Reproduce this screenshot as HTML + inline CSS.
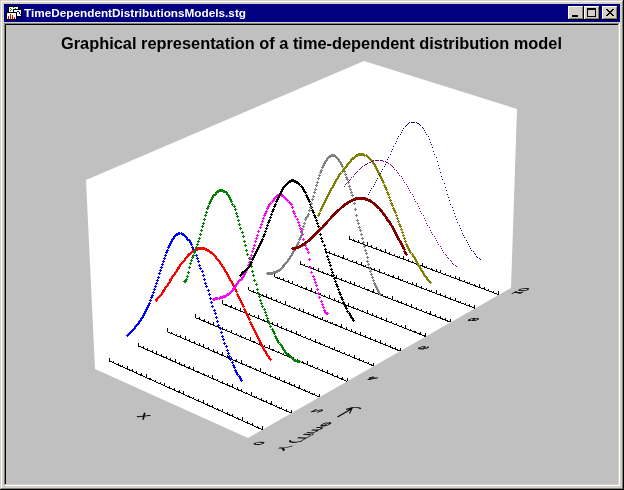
<!DOCTYPE html>
<html><head><meta charset="utf-8"><style>
html,body{margin:0;padding:0;width:624px;height:490px;overflow:hidden;background:#C0C0C0}
svg{display:block;will-change:transform}
text{font-family:"Liberation Sans",sans-serif}
</style></head><body>
<svg width="624" height="490" viewBox="0 0 624 490">
<g shape-rendering="crispEdges"><rect x="0" y="0" width="624" height="490" fill="#000000"/><rect x="0" y="0" width="623" height="489" fill="#D4D0C8"/><rect x="1" y="1" width="622" height="488" fill="#808080"/><rect x="1" y="1" width="621" height="487" fill="#FFFFFF"/><rect x="2" y="2" width="620" height="486" fill="#D4D0C8"/><rect x="4" y="4" width="616" height="18" fill="#000080"/><rect x="4" y="23" width="616" height="463" fill="#FFFFFF"/><rect x="4" y="23" width="615" height="462" fill="#808080"/><rect x="5" y="24" width="614" height="461" fill="#D4D0C8"/><rect x="5" y="24" width="613" height="460" fill="#000000"/><rect x="6" y="25" width="612" height="459" fill="#C0C0C0"/><rect x="8" y="6" width="11" height="7" fill="#000000"/><rect x="9" y="7" width="9" height="5" fill="#FFFFFF"/><rect x="10" y="8" width="1" height="1" fill="#008000"/><rect x="11" y="9" width="1" height="1" fill="#008000"/><rect x="10" y="10" width="1" height="1" fill="#008000"/><rect x="13" y="7" width="1" height="1" fill="#008000"/><rect x="15" y="8" width="1" height="1" fill="#008000"/><rect x="13" y="9" width="9" height="8" fill="#000000"/><rect x="14" y="10" width="7" height="6" fill="#FFFFFF"/><rect x="17" y="11" width="1" height="1" fill="#0000FF"/><rect x="18" y="11" width="1" height="1" fill="#0000FF"/><rect x="19" y="12" width="1" height="1" fill="#0000FF"/><rect x="19" y="13" width="1" height="1" fill="#0000FF"/><rect x="20" y="14" width="1" height="1" fill="#0000FF"/><rect x="6" y="12" width="11" height="8" fill="#000000"/><rect x="7" y="13" width="9" height="6" fill="#FFFFFF"/><rect x="8" y="16" width="1" height="3" fill="#FF0000"/><rect x="10" y="14" width="1" height="5" fill="#FF0000"/><rect x="12" y="15" width="1" height="4" fill="#FF0000"/><rect x="14" y="17" width="1" height="2" fill="#FF0000"/><rect x="568" y="6" width="16" height="14" fill="#000000"/><rect x="568" y="6" width="15" height="13" fill="#FFFFFF"/><rect x="569" y="7" width="14" height="12" fill="#808080"/><rect x="569" y="7" width="13" height="11" fill="#D4D0C8"/><rect x="584" y="6" width="16" height="14" fill="#000000"/><rect x="584" y="6" width="15" height="13" fill="#FFFFFF"/><rect x="585" y="7" width="14" height="12" fill="#808080"/><rect x="585" y="7" width="13" height="11" fill="#D4D0C8"/><rect x="602" y="6" width="16" height="14" fill="#000000"/><rect x="602" y="6" width="15" height="13" fill="#FFFFFF"/><rect x="603" y="7" width="14" height="12" fill="#808080"/><rect x="603" y="7" width="13" height="11" fill="#D4D0C8"/><rect x="572" y="15" width="6" height="2" fill="#000000"/><rect x="587" y="8" width="9" height="9" fill="#000000"/><rect x="588" y="10" width="7" height="6" fill="#D4D0C8"/></g>
<text x="24" y="17" fill="#FFFFFF" font-size="11" font-weight="bold" textLength="222" lengthAdjust="spacingAndGlyphs">TimeDependentDistributionsModels.stg</text>
<text x="61" y="48.6" fill="#000000" font-size="16" font-weight="bold" textLength="501" lengthAdjust="spacingAndGlyphs">Graphical representation of a time-dependent distribution model</text>
<polygon points="86,180 364,61 517,109 511,288 248,438 95,369" fill="#FFFFFF"/><path d="M109.33,360.96 L262.48,429.77 M109.33,360.96 v-3.30 M113.87,363.00 v-2.00 M118.42,365.05 v-2.00 M122.99,367.10 v-2.00 M127.58,369.16 v-3.30 M132.18,371.23 v-2.00 M136.79,373.30 v-2.00 M141.42,375.38 v-2.00 M146.07,377.47 v-3.30 M150.73,379.56 v-2.00 M155.41,381.67 v-2.00 M160.10,383.77 v-2.00 M164.81,385.89 v-3.30 M169.54,388.01 v-2.00 M174.28,390.14 v-2.00 M179.04,392.28 v-2.00 M183.81,394.43 v-3.30 M188.60,396.58 v-2.00 M193.41,398.74 v-2.00 M198.24,400.90 v-2.00 M203.08,403.08 v-3.30 M207.93,405.26 v-2.00 M212.81,407.45 v-2.00 M217.70,409.65 v-2.00 M222.60,411.85 v-3.30 M227.53,414.06 v-2.00 M232.47,416.28 v-2.00 M237.43,418.51 v-2.00 M242.40,420.75 v-3.30 M247.40,422.99 v-2.00 M252.41,425.24 v-2.00 M257.44,427.50 v-2.00 M262.48,429.77 v-3.30" stroke="#000" stroke-width="1" fill="none" shape-rendering="crispEdges"/><path d="M138.59,346.11 L291.41,413.22 M138.59,346.11 v-3.30 M143.12,348.10 v-2.00 M147.67,350.10 v-2.00 M152.23,352.10 v-2.00 M156.80,354.11 v-3.30 M161.40,356.13 v-2.00 M166.00,358.15 v-2.00 M170.63,360.18 v-2.00 M175.27,362.22 v-3.30 M179.92,364.26 v-2.00 M184.59,366.31 v-2.00 M189.27,368.37 v-2.00 M193.97,370.43 v-3.30 M198.69,372.51 v-2.00 M203.42,374.58 v-2.00 M208.17,376.67 v-2.00 M212.93,378.76 v-3.30 M217.72,380.86 v-2.00 M222.51,382.97 v-2.00 M227.32,385.08 v-2.00 M232.15,387.20 v-3.30 M237.00,389.33 v-2.00 M241.86,391.46 v-2.00 M246.74,393.60 v-2.00 M251.63,395.75 v-3.30 M256.55,397.91 v-2.00 M261.47,400.07 v-2.00 M266.42,402.25 v-2.00 M271.38,404.42 v-3.30 M276.36,406.61 v-2.00 M281.36,408.80 v-2.00 M286.37,411.01 v-2.00 M291.41,413.22 v-3.30" stroke="#000" stroke-width="1" fill="none" shape-rendering="crispEdges"/><path d="M167.14,331.62 L319.60,397.08 M167.14,331.62 v-3.30 M171.67,333.56 v-2.00 M176.21,335.51 v-2.00 M180.76,337.47 v-2.00 M185.33,339.43 v-3.30 M189.91,341.40 v-2.00 M194.51,343.37 v-2.00 M199.13,345.35 v-2.00 M203.75,347.34 v-3.30 M208.40,349.33 v-2.00 M213.06,351.33 v-2.00 M217.73,353.34 v-2.00 M222.42,355.36 v-3.30 M227.13,357.38 v-2.00 M231.85,359.40 v-2.00 M236.59,361.44 v-2.00 M241.34,363.48 v-3.30 M246.11,365.53 v-2.00 M250.90,367.58 v-2.00 M255.70,369.64 v-2.00 M260.51,371.71 v-3.30 M265.35,373.79 v-2.00 M270.20,375.87 v-2.00 M275.06,377.96 v-2.00 M279.94,380.05 v-3.30 M284.84,382.16 v-2.00 M289.76,384.27 v-2.00 M294.69,386.39 v-2.00 M299.64,388.51 v-3.30 M304.60,390.64 v-2.00 M309.58,392.78 v-2.00 M314.58,394.93 v-2.00 M319.60,397.08 v-3.30" stroke="#000" stroke-width="1" fill="none" shape-rendering="crispEdges"/><path d="M195.03,317.47 L347.09,381.35 M195.03,317.47 v-3.30 M199.54,319.36 v-2.00 M204.07,321.27 v-2.00 M208.62,323.18 v-2.00 M213.18,325.09 v-3.30 M217.75,327.01 v-2.00 M222.34,328.94 v-2.00 M226.94,330.87 v-2.00 M231.56,332.82 v-3.30 M236.20,334.76 v-2.00 M240.85,336.71 v-2.00 M245.51,338.67 v-2.00 M250.19,340.64 v-3.30 M254.88,342.61 v-2.00 M259.59,344.59 v-2.00 M264.32,346.58 v-2.00 M269.06,348.57 v-3.30 M273.82,350.57 v-2.00 M278.59,352.57 v-2.00 M283.38,354.58 v-2.00 M288.18,356.60 v-3.30 M293.00,358.63 v-2.00 M297.84,360.66 v-2.00 M302.69,362.70 v-2.00 M307.56,364.74 v-3.30 M312.44,366.79 v-2.00 M317.34,368.85 v-2.00 M322.26,370.92 v-2.00 M327.19,372.99 v-3.30 M332.14,375.07 v-2.00 M337.11,377.16 v-2.00 M342.09,379.25 v-2.00 M347.09,381.35 v-3.30" stroke="#000" stroke-width="1" fill="none" shape-rendering="crispEdges"/><path d="M222.26,303.64 L373.91,366.00 M222.26,303.64 v-3.30 M226.77,305.50 v-2.00 M231.29,307.36 v-2.00 M235.82,309.22 v-2.00 M240.37,311.09 v-3.30 M244.93,312.97 v-2.00 M249.51,314.85 v-2.00 M254.11,316.74 v-2.00 M258.71,318.63 v-3.30 M263.34,320.53 v-2.00 M267.97,322.44 v-2.00 M272.63,324.35 v-2.00 M277.29,326.27 v-3.30 M281.98,328.20 v-2.00 M286.67,330.13 v-2.00 M291.39,332.07 v-2.00 M296.11,334.01 v-3.30 M300.86,335.96 v-2.00 M305.62,337.92 v-2.00 M310.39,339.88 v-2.00 M315.18,341.85 v-3.30 M319.99,343.83 v-2.00 M324.81,345.81 v-2.00 M329.65,347.80 v-2.00 M334.50,349.80 v-3.30 M339.37,351.80 v-2.00 M344.26,353.81 v-2.00 M349.16,355.83 v-2.00 M354.08,357.85 v-3.30 M359.01,359.88 v-2.00 M363.96,361.91 v-2.00 M368.93,363.95 v-2.00 M373.91,366.00 v-3.30" stroke="#000" stroke-width="1" fill="none" shape-rendering="crispEdges"/><path d="M248.86,290.14 L400.08,351.03 M248.86,290.14 v-3.30 M253.36,291.95 v-2.00 M257.87,293.77 v-2.00 M262.39,295.59 v-2.00 M266.93,297.42 v-3.30 M271.49,299.25 v-2.00 M276.05,301.09 v-2.00 M280.63,302.93 v-2.00 M285.23,304.78 v-3.30 M289.84,306.64 v-2.00 M294.47,308.50 v-2.00 M299.11,310.37 v-2.00 M303.76,312.25 v-3.30 M308.43,314.13 v-2.00 M313.12,316.01 v-2.00 M317.82,317.90 v-2.00 M322.53,319.80 v-3.30 M327.26,321.71 v-2.00 M332.01,323.62 v-2.00 M336.77,325.54 v-2.00 M341.54,327.46 v-3.30 M346.33,329.39 v-2.00 M351.14,331.32 v-2.00 M355.96,333.27 v-2.00 M360.80,335.21 v-3.30 M365.65,337.17 v-2.00 M370.52,339.13 v-2.00 M375.41,341.10 v-2.00 M380.31,343.07 v-3.30 M385.23,345.05 v-2.00 M390.16,347.04 v-2.00 M395.11,349.03 v-2.00 M400.08,351.03 v-3.30" stroke="#000" stroke-width="1" fill="none" shape-rendering="crispEdges"/><path d="M274.86,276.94 L425.62,336.42 M274.86,276.94 v-3.30 M279.35,278.71 v-2.00 M283.85,280.49 v-2.00 M288.36,282.27 v-2.00 M292.89,284.05 v-3.30 M297.43,285.84 v-2.00 M301.98,287.64 v-2.00 M306.55,289.44 v-2.00 M311.13,291.25 v-3.30 M315.73,293.07 v-2.00 M320.35,294.89 v-2.00 M324.97,296.71 v-2.00 M329.61,298.54 v-3.30 M334.27,300.38 v-2.00 M338.94,302.22 v-2.00 M343.63,304.07 v-2.00 M348.33,305.92 v-3.30 M353.04,307.79 v-2.00 M357.77,309.65 v-2.00 M362.52,311.52 v-2.00 M367.28,313.40 v-3.30 M372.06,315.29 v-2.00 M376.85,317.18 v-2.00 M381.65,319.07 v-2.00 M386.48,320.97 v-3.30 M391.31,322.88 v-2.00 M396.17,324.80 v-2.00 M401.04,326.72 v-2.00 M405.92,328.65 v-3.30 M410.82,330.58 v-2.00 M415.74,332.52 v-2.00 M420.67,334.46 v-2.00 M425.62,336.42 v-3.30" stroke="#000" stroke-width="1" fill="none" shape-rendering="crispEdges"/><path d="M300.28,264.04 L450.56,322.15 M300.28,264.04 v-3.30 M304.75,265.77 v-2.00 M309.24,267.51 v-2.00 M313.74,269.25 v-2.00 M318.25,270.99 v-3.30 M322.78,272.75 v-2.00 M327.32,274.50 v-2.00 M331.88,276.26 v-2.00 M336.45,278.03 v-3.30 M341.03,279.80 v-2.00 M345.63,281.58 v-2.00 M350.25,283.37 v-2.00 M354.87,285.15 v-3.30 M359.52,286.95 v-2.00 M364.17,288.75 v-2.00 M368.84,290.56 v-2.00 M373.53,292.37 v-3.30 M378.23,294.19 v-2.00 M382.95,296.01 v-2.00 M387.68,297.84 v-2.00 M392.42,299.67 v-3.30 M397.18,301.51 v-2.00 M401.96,303.36 v-2.00 M406.75,305.21 v-2.00 M411.55,307.07 v-3.30 M416.37,308.93 v-2.00 M421.21,310.80 v-2.00 M426.06,312.68 v-2.00 M430.93,314.56 v-3.30 M435.81,316.45 v-2.00 M440.71,318.34 v-2.00 M445.63,320.24 v-2.00 M450.56,322.15 v-3.30" stroke="#000" stroke-width="1" fill="none" shape-rendering="crispEdges"/><path d="M325.12,251.43 L474.91,308.22 M325.12,251.43 v-3.30 M329.58,253.12 v-2.00 M334.06,254.82 v-2.00 M338.54,256.52 v-2.00 M343.05,258.23 v-3.30 M347.56,259.94 v-2.00 M352.09,261.66 v-2.00 M356.63,263.38 v-2.00 M361.19,265.11 v-3.30 M365.76,266.84 v-2.00 M370.35,268.58 v-2.00 M374.95,270.32 v-2.00 M379.56,272.07 v-3.30 M384.19,273.82 v-2.00 M388.83,275.58 v-2.00 M393.48,277.35 v-2.00 M398.16,279.12 v-3.30 M402.84,280.90 v-2.00 M407.54,282.68 v-2.00 M412.25,284.46 v-2.00 M416.98,286.26 v-3.30 M421.73,288.06 v-2.00 M426.49,289.86 v-2.00 M431.26,291.67 v-2.00 M436.05,293.48 v-3.30 M440.85,295.31 v-2.00 M445.67,297.13 v-2.00 M450.51,298.97 v-2.00 M455.35,300.80 v-3.30 M460.22,302.65 v-2.00 M465.10,304.50 v-2.00 M469.99,306.35 v-2.00 M474.91,308.22 v-3.30" stroke="#000" stroke-width="1" fill="none" shape-rendering="crispEdges"/><path d="M349.42,239.10 L498.69,294.60 M349.42,239.10 v-3.30 M353.87,240.75 v-2.00 M358.33,242.41 v-2.00 M362.80,244.08 v-2.00 M367.29,245.75 v-3.30 M371.79,247.42 v-2.00 M376.31,249.10 v-2.00 M380.84,250.78 v-2.00 M385.38,252.47 v-3.30 M389.94,254.17 v-2.00 M394.51,255.87 v-2.00 M399.09,257.57 v-2.00 M403.69,259.28 v-3.30 M408.30,260.99 v-2.00 M412.93,262.71 v-2.00 M417.57,264.44 v-2.00 M422.23,266.17 v-3.30 M426.89,267.91 v-2.00 M431.58,269.65 v-2.00 M436.28,271.40 v-2.00 M440.99,273.15 v-3.30 M445.72,274.91 v-2.00 M450.46,276.67 v-2.00 M455.21,278.44 v-2.00 M459.98,280.21 v-3.30 M464.77,281.99 v-2.00 M469.57,283.78 v-2.00 M474.39,285.57 v-2.00 M479.22,287.36 v-3.30 M484.06,289.16 v-2.00 M488.92,290.97 v-2.00 M493.80,292.79 v-2.00 M498.69,294.60 v-3.30" stroke="#000" stroke-width="1" fill="none" shape-rendering="crispEdges"/><path d="M126,335 h3 v1 h-3z M127,334 h1 v3 h-1z M127,334 h3 v1 h-3z M128,333 h1 v3 h-1z M128,333 h3 v1 h-3z M129,332 h1 v3 h-1z M129,332 h3 v1 h-3z M130,331 h1 v3 h-1z M130,331 h3 v1 h-3z M131,330 h1 v3 h-1z M131,330 h3 v1 h-3z M132,329 h1 v3 h-1z M132,329 h3 v1 h-3z M133,328 h1 v3 h-1z M133,328 h3 v1 h-3z M134,327 h1 v3 h-1z M134,326 h3 v1 h-3z M135,325 h1 v3 h-1z M135,325 h3 v1 h-3z M136,324 h1 v3 h-1z M136,324 h3 v1 h-3z M137,323 h1 v3 h-1z M137,323 h3 v1 h-3z M138,322 h1 v3 h-1z M138,321 h3 v1 h-3z M139,320 h1 v3 h-1z M139,320 h3 v1 h-3z M140,319 h1 v3 h-1z M140,318 h3 v1 h-3z M141,317 h1 v3 h-1z M141,317 h3 v1 h-3z M142,316 h1 v3 h-1z M142,315 h3 v1 h-3z M143,314 h1 v3 h-1z M143,313 h3 v1 h-3z M144,312 h1 v3 h-1z M144,311 h3 v1 h-3z M145,310 h1 v3 h-1z M145,309 h3 v1 h-3z M146,308 h1 v3 h-1z M146,307 h3 v1 h-3z M147,306 h1 v3 h-1z M147,305 h3 v1 h-3z M148,304 h1 v3 h-1z M148,303 h3 v1 h-3z M149,302 h1 v3 h-1z M149,300 h3 v1 h-3z M150,299 h1 v3 h-1z M150,297 h3 v1 h-3z M151,296 h1 v3 h-1z M151,295 h3 v1 h-3z M152,294 h1 v3 h-1z M152,292 h3 v1 h-3z M153,291 h1 v3 h-1z M153,289 h3 v1 h-3z M154,288 h1 v3 h-1z M154,286 h3 v1 h-3z M155,285 h1 v3 h-1z M155,283 h3 v1 h-3z M156,282 h1 v3 h-1z M156,280 h3 v1 h-3z M157,279 h1 v3 h-1z M157,277 h3 v1 h-3z M158,276 h1 v3 h-1z M158,273 h3 v1 h-3z M159,272 h1 v3 h-1z M159,270 h3 v1 h-3z M160,269 h1 v3 h-1z M160,267 h3 v1 h-3z M161,266 h1 v3 h-1z M161,264 h3 v1 h-3z M162,263 h1 v3 h-1z M162,261 h3 v1 h-3z M163,260 h1 v3 h-1z M163,258 h3 v1 h-3z M164,257 h1 v3 h-1z M164,255 h3 v1 h-3z M165,254 h1 v3 h-1z M165,252 h3 v1 h-3z M166,251 h1 v3 h-1z M166,250 h3 v1 h-3z M167,249 h1 v3 h-1z M167,247 h3 v1 h-3z M168,246 h1 v3 h-1z M168,245 h3 v1 h-3z M169,244 h1 v3 h-1z M169,243 h3 v1 h-3z M170,242 h1 v3 h-1z M170,241 h3 v1 h-3z M171,240 h1 v3 h-1z M171,239 h3 v1 h-3z M172,238 h1 v3 h-1z M172,238 h3 v1 h-3z M173,237 h1 v3 h-1z M173,236 h3 v1 h-3z M174,235 h1 v3 h-1z M174,235 h3 v1 h-3z M175,234 h1 v3 h-1z M175,234 h3 v1 h-3z M176,233 h1 v3 h-1z M176,234 h3 v1 h-3z M177,233 h1 v3 h-1z M177,233 h3 v1 h-3z M178,232 h1 v3 h-1z M178,233 h3 v1 h-3z M179,232 h1 v3 h-1z M180,233 h3 v1 h-3z M181,232 h1 v3 h-1z M181,234 h3 v1 h-3z M182,233 h1 v3 h-1z M182,234 h3 v1 h-3z M183,233 h1 v3 h-1z M183,235 h3 v1 h-3z M184,234 h1 v3 h-1z M184,236 h3 v1 h-3z M185,235 h1 v3 h-1z M185,237 h3 v1 h-3z M186,236 h1 v3 h-1z M186,239 h3 v1 h-3z M187,238 h1 v3 h-1z M188,240 h3 v1 h-3z M189,239 h1 v3 h-1z M189,242 h3 v1 h-3z M190,241 h1 v3 h-1z M190,244 h3 v1 h-3z M191,243 h1 v3 h-1z M191,247 h3 v1 h-3z M192,246 h1 v3 h-1z M192,249 h3 v1 h-3z M193,248 h1 v3 h-1z M193,252 h3 v1 h-3z M194,251 h1 v3 h-1z M195,255 h3 v1 h-3z M196,254 h1 v3 h-1z M196,258 h3 v1 h-3z M197,257 h1 v3 h-1z M197,261 h3 v1 h-3z M198,260 h1 v3 h-1z M198,265 h3 v1 h-3z M199,264 h1 v3 h-1z M199,268 h3 v1 h-3z M200,267 h1 v3 h-1z M201,271 h3 v1 h-3z M202,270 h1 v3 h-1z M202,275 h3 v1 h-3z M203,274 h1 v3 h-1z M203,279 h3 v1 h-3z M204,278 h1 v3 h-1z M204,283 h3 v1 h-3z M205,282 h1 v3 h-1z M205,286 h3 v1 h-3z M206,285 h1 v3 h-1z M207,290 h3 v1 h-3z M208,289 h1 v3 h-1z M208,294 h3 v1 h-3z M209,293 h1 v3 h-1z M209,298 h3 v1 h-3z M210,297 h1 v3 h-1z M210,302 h3 v1 h-3z M211,301 h1 v3 h-1z M211,306 h3 v1 h-3z M212,305 h1 v3 h-1z M213,310 h3 v1 h-3z M214,309 h1 v3 h-1z M214,313 h3 v1 h-3z M215,312 h1 v3 h-1z M215,317 h3 v1 h-3z M216,316 h1 v3 h-1z M216,321 h3 v1 h-3z M217,320 h1 v3 h-1z M217,325 h3 v1 h-3z M218,324 h1 v3 h-1z M219,328 h3 v1 h-3z M220,327 h1 v3 h-1z M220,332 h3 v1 h-3z M221,331 h1 v3 h-1z M221,336 h3 v1 h-3z M222,335 h1 v3 h-1z M222,339 h3 v1 h-3z M223,338 h1 v3 h-1z M223,343 h3 v1 h-3z M224,342 h1 v3 h-1z M225,346 h3 v1 h-3z M226,345 h1 v3 h-1z M226,350 h3 v1 h-3z M227,349 h1 v3 h-1z M227,353 h3 v1 h-3z M228,352 h1 v3 h-1z M228,356 h3 v1 h-3z M229,355 h1 v3 h-1z M229,359 h3 v1 h-3z M230,358 h1 v3 h-1z M231,362 h3 v1 h-3z M232,361 h1 v3 h-1z M232,365 h3 v1 h-3z M233,364 h1 v3 h-1z M233,367 h3 v1 h-3z M234,366 h1 v3 h-1z M234,370 h3 v1 h-3z M235,369 h1 v3 h-1z M235,372 h3 v1 h-3z M236,371 h1 v3 h-1z M236,374 h3 v1 h-3z M237,373 h1 v3 h-1z M238,376 h3 v1 h-3z M239,375 h1 v3 h-1z M239,378 h3 v1 h-3z M240,377 h1 v3 h-1z M240,380 h3 v1 h-3z M241,379 h1 v3 h-1z " fill="#0000FF" shape-rendering="crispEdges"/><path d="M155,300 h3 v1 h-3z M156,299 h1 v3 h-1z M155,299 h3 v1 h-3z M156,298 h1 v3 h-1z M156,298 h3 v1 h-3z M157,297 h1 v3 h-1z M157,297 h3 v1 h-3z M158,296 h1 v3 h-1z M158,296 h3 v1 h-3z M159,295 h1 v3 h-1z M159,295 h3 v1 h-3z M160,294 h1 v3 h-1z M160,294 h3 v1 h-3z M161,293 h1 v3 h-1z M161,292 h3 v1 h-3z M162,291 h1 v3 h-1z M162,291 h3 v1 h-3z M163,290 h1 v3 h-1z M162,290 h3 v1 h-3z M163,289 h1 v3 h-1z M163,289 h3 v1 h-3z M164,288 h1 v3 h-1z M164,287 h3 v1 h-3z M165,286 h1 v3 h-1z M165,286 h3 v1 h-3z M166,285 h1 v3 h-1z M166,285 h3 v1 h-3z M167,284 h1 v3 h-1z M167,283 h3 v1 h-3z M168,282 h1 v3 h-1z M168,282 h3 v1 h-3z M169,281 h1 v3 h-1z M169,280 h3 v1 h-3z M170,279 h1 v3 h-1z M169,279 h3 v1 h-3z M170,278 h1 v3 h-1z M170,278 h3 v1 h-3z M171,277 h1 v3 h-1z M171,276 h3 v1 h-3z M172,275 h1 v3 h-1z M172,275 h3 v1 h-3z M173,274 h1 v3 h-1z M173,274 h3 v1 h-3z M174,273 h1 v3 h-1z M174,272 h3 v1 h-3z M175,271 h1 v3 h-1z M175,271 h3 v1 h-3z M176,270 h1 v3 h-1z M176,269 h3 v1 h-3z M177,268 h1 v3 h-1z M177,268 h3 v1 h-3z M178,267 h1 v3 h-1z M177,267 h3 v1 h-3z M178,266 h1 v3 h-1z M178,266 h3 v1 h-3z M179,265 h1 v3 h-1z M179,264 h3 v1 h-3z M180,263 h1 v3 h-1z M180,263 h3 v1 h-3z M181,262 h1 v3 h-1z M181,262 h3 v1 h-3z M182,261 h1 v3 h-1z M182,261 h3 v1 h-3z M183,260 h1 v3 h-1z M183,260 h3 v1 h-3z M184,259 h1 v3 h-1z M184,258 h3 v1 h-3z M185,257 h1 v3 h-1z M185,257 h3 v1 h-3z M186,256 h1 v3 h-1z M186,256 h3 v1 h-3z M187,255 h1 v3 h-1z M187,255 h3 v1 h-3z M188,254 h1 v3 h-1z M187,254 h3 v1 h-3z M188,253 h1 v3 h-1z M188,254 h3 v1 h-3z M189,253 h1 v3 h-1z M189,253 h3 v1 h-3z M190,252 h1 v3 h-1z M190,252 h3 v1 h-3z M191,251 h1 v3 h-1z M191,251 h3 v1 h-3z M192,250 h1 v3 h-1z M192,251 h3 v1 h-3z M193,250 h1 v3 h-1z M193,250 h3 v1 h-3z M194,249 h1 v3 h-1z M194,249 h3 v1 h-3z M195,248 h1 v3 h-1z M195,249 h3 v1 h-3z M196,248 h1 v3 h-1z M196,249 h3 v1 h-3z M197,248 h1 v3 h-1z M197,248 h3 v1 h-3z M198,247 h1 v3 h-1z M198,248 h3 v1 h-3z M199,247 h1 v3 h-1z M199,248 h3 v1 h-3z M200,247 h1 v3 h-1z M200,248 h3 v1 h-3z M201,247 h1 v3 h-1z M201,248 h3 v1 h-3z M202,247 h1 v3 h-1z M201,248 h3 v1 h-3z M202,247 h1 v3 h-1z M202,248 h3 v1 h-3z M203,247 h1 v3 h-1z M203,248 h3 v1 h-3z M204,247 h1 v3 h-1z M204,249 h3 v1 h-3z M205,248 h1 v3 h-1z M205,249 h3 v1 h-3z M206,248 h1 v3 h-1z M206,250 h3 v1 h-3z M207,249 h1 v3 h-1z M207,250 h3 v1 h-3z M208,249 h1 v3 h-1z M208,251 h3 v1 h-3z M209,250 h1 v3 h-1z M209,252 h3 v1 h-3z M210,251 h1 v3 h-1z M210,252 h3 v1 h-3z M211,251 h1 v3 h-1z M211,253 h3 v1 h-3z M212,252 h1 v3 h-1z M212,254 h3 v1 h-3z M213,253 h1 v3 h-1z M213,255 h3 v1 h-3z M214,254 h1 v3 h-1z M214,256 h3 v1 h-3z M215,255 h1 v3 h-1z M215,258 h3 v1 h-3z M216,257 h1 v3 h-1z M216,259 h3 v1 h-3z M217,258 h1 v3 h-1z M217,260 h3 v1 h-3z M218,259 h1 v3 h-1z M218,261 h3 v1 h-3z M219,260 h1 v3 h-1z M219,263 h3 v1 h-3z M220,262 h1 v3 h-1z M220,264 h3 v1 h-3z M221,263 h1 v3 h-1z M221,266 h3 v1 h-3z M222,265 h1 v3 h-1z M222,267 h3 v1 h-3z M223,266 h1 v3 h-1z M223,269 h3 v1 h-3z M224,268 h1 v3 h-1z M224,271 h3 v1 h-3z M225,270 h1 v3 h-1z M225,272 h3 v1 h-3z M226,271 h1 v3 h-1z M226,274 h3 v1 h-3z M227,273 h1 v3 h-1z M227,276 h3 v1 h-3z M228,275 h1 v3 h-1z M228,278 h3 v1 h-3z M229,277 h1 v3 h-1z M229,280 h3 v1 h-3z M230,279 h1 v3 h-1z M230,281 h3 v1 h-3z M231,280 h1 v3 h-1z M231,283 h3 v1 h-3z M232,282 h1 v3 h-1z M232,285 h3 v1 h-3z M233,284 h1 v3 h-1z M233,287 h3 v1 h-3z M234,286 h1 v3 h-1z M234,289 h3 v1 h-3z M235,288 h1 v3 h-1z M235,291 h3 v1 h-3z M236,290 h1 v3 h-1z M236,294 h3 v1 h-3z M237,293 h1 v3 h-1z M237,296 h3 v1 h-3z M238,295 h1 v3 h-1z M238,298 h3 v1 h-3z M239,297 h1 v3 h-1z M239,300 h3 v1 h-3z M240,299 h1 v3 h-1z M240,302 h3 v1 h-3z M241,301 h1 v3 h-1z M241,304 h3 v1 h-3z M242,303 h1 v3 h-1z M242,306 h3 v1 h-3z M243,305 h1 v3 h-1z M243,309 h3 v1 h-3z M244,308 h1 v3 h-1z M244,311 h3 v1 h-3z M245,310 h1 v3 h-1z M245,313 h3 v1 h-3z M246,312 h1 v3 h-1z M246,315 h3 v1 h-3z M247,314 h1 v3 h-1z M247,317 h3 v1 h-3z M248,316 h1 v3 h-1z M248,319 h3 v1 h-3z M249,318 h1 v3 h-1z M249,322 h3 v1 h-3z M250,321 h1 v3 h-1z M250,324 h3 v1 h-3z M251,323 h1 v3 h-1z M251,326 h3 v1 h-3z M252,325 h1 v3 h-1z M252,328 h3 v1 h-3z M253,327 h1 v3 h-1z M253,330 h3 v1 h-3z M254,329 h1 v3 h-1z M254,332 h3 v1 h-3z M255,331 h1 v3 h-1z M255,334 h3 v1 h-3z M256,333 h1 v3 h-1z M256,336 h3 v1 h-3z M257,335 h1 v3 h-1z M257,338 h3 v1 h-3z M258,337 h1 v3 h-1z M258,340 h3 v1 h-3z M259,339 h1 v3 h-1z M259,342 h3 v1 h-3z M260,341 h1 v3 h-1z M260,344 h3 v1 h-3z M261,343 h1 v3 h-1z M261,346 h3 v1 h-3z M262,345 h1 v3 h-1z M262,348 h3 v1 h-3z M263,347 h1 v3 h-1z M263,350 h3 v1 h-3z M264,349 h1 v3 h-1z M264,351 h3 v1 h-3z M265,350 h1 v3 h-1z M265,353 h3 v1 h-3z M266,352 h1 v3 h-1z M266,355 h3 v1 h-3z M267,354 h1 v3 h-1z M267,356 h3 v1 h-3z M268,355 h1 v3 h-1z M268,358 h3 v1 h-3z M269,357 h1 v3 h-1z M269,359 h3 v1 h-3z M270,358 h1 v3 h-1z " fill="#FF0000" shape-rendering="crispEdges"/><path d="M183,281 h3 v1 h-3z M184,280 h1 v3 h-1z M184,281 h3 v1 h-3z M185,280 h1 v3 h-1z M185,279 h3 v1 h-3z M186,278 h1 v3 h-1z M186,276 h3 v1 h-3z M187,275 h1 v3 h-1z M187,272 h3 v1 h-3z M188,271 h1 v3 h-1z M188,267 h3 v1 h-3z M189,266 h1 v3 h-1z M189,263 h3 v1 h-3z M190,262 h1 v3 h-1z M190,260 h3 v1 h-3z M191,259 h1 v3 h-1z M191,257 h3 v1 h-3z M192,256 h1 v3 h-1z M192,255 h3 v1 h-3z M193,254 h1 v3 h-1z M193,252 h3 v1 h-3z M194,251 h1 v3 h-1z M194,250 h3 v1 h-3z M195,249 h1 v3 h-1z M195,247 h3 v1 h-3z M196,246 h1 v3 h-1z M196,244 h3 v1 h-3z M197,243 h1 v3 h-1z M197,241 h3 v1 h-3z M198,240 h1 v3 h-1z M198,238 h3 v1 h-3z M199,237 h1 v3 h-1z M199,234 h3 v1 h-3z M200,233 h1 v3 h-1z M200,230 h3 v1 h-3z M201,229 h1 v3 h-1z M201,226 h3 v1 h-3z M202,225 h1 v3 h-1z M202,223 h3 v1 h-3z M203,222 h1 v3 h-1z M203,219 h3 v1 h-3z M204,218 h1 v3 h-1z M204,215 h3 v1 h-3z M205,214 h1 v3 h-1z M205,212 h3 v1 h-3z M206,211 h1 v3 h-1z M206,208 h3 v1 h-3z M207,207 h1 v3 h-1z M207,206 h3 v1 h-3z M208,205 h1 v3 h-1z M208,203 h3 v1 h-3z M209,202 h1 v3 h-1z M209,201 h3 v1 h-3z M210,200 h1 v3 h-1z M210,199 h3 v1 h-3z M211,198 h1 v3 h-1z M211,197 h3 v1 h-3z M212,196 h1 v3 h-1z M212,195 h3 v1 h-3z M213,194 h1 v3 h-1z M214,194 h3 v1 h-3z M215,193 h1 v3 h-1z M215,192 h3 v1 h-3z M216,191 h1 v3 h-1z M216,191 h3 v1 h-3z M217,190 h1 v3 h-1z M217,191 h3 v1 h-3z M218,190 h1 v3 h-1z M218,190 h3 v1 h-3z M219,189 h1 v3 h-1z M219,190 h3 v1 h-3z M220,189 h1 v3 h-1z M220,190 h3 v1 h-3z M221,189 h1 v3 h-1z M221,190 h3 v1 h-3z M222,189 h1 v3 h-1z M222,191 h3 v1 h-3z M223,190 h1 v3 h-1z M223,191 h3 v1 h-3z M224,190 h1 v3 h-1z M225,192 h3 v1 h-3z M226,191 h1 v3 h-1z M226,194 h3 v1 h-3z M227,193 h1 v3 h-1z M227,195 h3 v1 h-3z M228,194 h1 v3 h-1z M228,197 h3 v1 h-3z M229,196 h1 v3 h-1z M229,199 h3 v1 h-3z M230,198 h1 v3 h-1z M230,201 h3 v1 h-3z M231,200 h1 v3 h-1z M231,204 h3 v1 h-3z M232,203 h1 v3 h-1z M233,206 h3 v1 h-3z M234,205 h1 v3 h-1z M234,209 h3 v1 h-3z M235,208 h1 v3 h-1z M235,213 h3 v1 h-3z M236,212 h1 v3 h-1z M236,216 h3 v1 h-3z M237,215 h1 v3 h-1z M237,220 h3 v1 h-3z M238,219 h1 v3 h-1z M238,224 h3 v1 h-3z M239,223 h1 v3 h-1z M239,228 h3 v1 h-3z M240,227 h1 v3 h-1z M241,232 h3 v1 h-3z M242,231 h1 v3 h-1z M242,236 h3 v1 h-3z M243,235 h1 v3 h-1z M243,241 h3 v1 h-3z M244,240 h1 v3 h-1z M244,245 h3 v1 h-3z M245,244 h1 v3 h-1z M245,250 h3 v1 h-3z M246,249 h1 v3 h-1z M246,254 h3 v1 h-3z M247,253 h1 v3 h-1z M248,258 h3 v1 h-3z M249,257 h1 v3 h-1z M249,262 h3 v1 h-3z M250,261 h1 v3 h-1z M250,266 h3 v1 h-3z M251,265 h1 v3 h-1z M251,271 h3 v1 h-3z M252,270 h1 v3 h-1z M252,275 h3 v1 h-3z M253,274 h1 v3 h-1z M253,280 h3 v1 h-3z M254,279 h1 v3 h-1z M255,284 h3 v1 h-3z M256,283 h1 v3 h-1z M256,289 h3 v1 h-3z M257,288 h1 v3 h-1z M257,293 h3 v1 h-3z M258,292 h1 v3 h-1z M258,296 h3 v1 h-3z M259,295 h1 v3 h-1z M259,300 h3 v1 h-3z M260,299 h1 v3 h-1z M260,303 h3 v1 h-3z M261,302 h1 v3 h-1z M261,306 h3 v1 h-3z M262,305 h1 v3 h-1z M263,309 h3 v1 h-3z M264,308 h1 v3 h-1z M264,312 h3 v1 h-3z M265,311 h1 v3 h-1z M265,315 h3 v1 h-3z M266,314 h1 v3 h-1z M266,318 h3 v1 h-3z M267,317 h1 v3 h-1z M267,321 h3 v1 h-3z M268,320 h1 v3 h-1z M268,323 h3 v1 h-3z M269,322 h1 v3 h-1z M269,326 h3 v1 h-3z M270,325 h1 v3 h-1z M271,329 h3 v1 h-3z M272,328 h1 v3 h-1z M272,331 h3 v1 h-3z M273,330 h1 v3 h-1z M273,333 h3 v1 h-3z M274,332 h1 v3 h-1z M274,336 h3 v1 h-3z M275,335 h1 v3 h-1z M275,338 h3 v1 h-3z M276,337 h1 v3 h-1z M276,340 h3 v1 h-3z M277,339 h1 v3 h-1z M277,342 h3 v1 h-3z M278,341 h1 v3 h-1z M279,344 h3 v1 h-3z M280,343 h1 v3 h-1z M280,345 h3 v1 h-3z M281,344 h1 v3 h-1z M281,347 h3 v1 h-3z M282,346 h1 v3 h-1z M282,349 h3 v1 h-3z M283,348 h1 v3 h-1z M283,350 h3 v1 h-3z M284,349 h1 v3 h-1z M284,352 h3 v1 h-3z M285,351 h1 v3 h-1z M285,353 h3 v1 h-3z M286,352 h1 v3 h-1z M286,354 h3 v1 h-3z M287,353 h1 v3 h-1z M288,355 h3 v1 h-3z M289,354 h1 v3 h-1z M289,356 h3 v1 h-3z M290,355 h1 v3 h-1z M290,357 h3 v1 h-3z M291,356 h1 v3 h-1z M291,358 h3 v1 h-3z M292,357 h1 v3 h-1z M292,359 h3 v1 h-3z M293,358 h1 v3 h-1z M293,360 h3 v1 h-3z M294,359 h1 v3 h-1z M294,360 h3 v1 h-3z M295,359 h1 v3 h-1z M296,361 h3 v1 h-3z M297,360 h1 v3 h-1z M297,361 h3 v1 h-3z M298,360 h1 v3 h-1z M298,361 h3 v1 h-3z M299,360 h1 v3 h-1z " fill="#008000" shape-rendering="crispEdges"/><path d="M212,299 h3 v1 h-3z M213,298 h1 v3 h-1z M213,299 h3 v1 h-3z M214,298 h1 v3 h-1z M214,298 h3 v1 h-3z M215,297 h1 v3 h-1z M215,298 h3 v1 h-3z M216,297 h1 v3 h-1z M216,298 h3 v1 h-3z M217,297 h1 v3 h-1z M218,298 h3 v1 h-3z M219,297 h1 v3 h-1z M219,297 h3 v1 h-3z M220,296 h1 v3 h-1z M220,297 h3 v1 h-3z M221,296 h1 v3 h-1z M221,297 h3 v1 h-3z M222,296 h1 v3 h-1z M222,296 h3 v1 h-3z M223,295 h1 v3 h-1z M223,296 h3 v1 h-3z M224,295 h1 v3 h-1z M224,296 h3 v1 h-3z M225,295 h1 v3 h-1z M225,295 h3 v1 h-3z M226,294 h1 v3 h-1z M226,294 h3 v1 h-3z M227,293 h1 v3 h-1z M227,294 h3 v1 h-3z M228,293 h1 v3 h-1z M228,293 h3 v1 h-3z M229,292 h1 v3 h-1z M229,292 h3 v1 h-3z M230,291 h1 v3 h-1z M230,291 h3 v1 h-3z M231,290 h1 v3 h-1z M231,290 h3 v1 h-3z M232,289 h1 v3 h-1z M232,288 h3 v1 h-3z M233,287 h1 v3 h-1z M233,287 h3 v1 h-3z M234,286 h1 v3 h-1z M234,286 h3 v1 h-3z M235,285 h1 v3 h-1z M235,284 h3 v1 h-3z M236,283 h1 v3 h-1z M236,283 h3 v1 h-3z M237,282 h1 v3 h-1z M237,281 h3 v1 h-3z M238,280 h1 v3 h-1z M238,280 h3 v1 h-3z M239,279 h1 v3 h-1z M240,279 h3 v1 h-3z M241,278 h1 v3 h-1z M241,277 h3 v1 h-3z M242,276 h1 v3 h-1z M242,276 h3 v1 h-3z M243,275 h1 v3 h-1z M243,274 h3 v1 h-3z M244,273 h1 v3 h-1z M244,272 h3 v1 h-3z M245,271 h1 v3 h-1z M245,270 h3 v1 h-3z M246,269 h1 v3 h-1z M246,268 h3 v1 h-3z M247,267 h1 v3 h-1z M247,265 h3 v1 h-3z M248,264 h1 v3 h-1z M248,262 h3 v1 h-3z M249,261 h1 v3 h-1z M249,258 h3 v1 h-3z M250,257 h1 v3 h-1z M250,255 h3 v1 h-3z M251,254 h1 v3 h-1z M251,251 h3 v1 h-3z M252,250 h1 v3 h-1z M252,248 h3 v1 h-3z M253,247 h1 v3 h-1z M253,245 h3 v1 h-3z M254,244 h1 v3 h-1z M254,241 h3 v1 h-3z M255,240 h1 v3 h-1z M255,238 h3 v1 h-3z M256,237 h1 v3 h-1z M256,235 h3 v1 h-3z M257,234 h1 v3 h-1z M257,231 h3 v1 h-3z M258,230 h1 v3 h-1z M259,227 h3 v1 h-3z M260,226 h1 v3 h-1z M260,224 h3 v1 h-3z M261,223 h1 v3 h-1z M261,221 h3 v1 h-3z M262,220 h1 v3 h-1z M262,218 h3 v1 h-3z M263,217 h1 v3 h-1z M263,215 h3 v1 h-3z M264,214 h1 v3 h-1z M264,213 h3 v1 h-3z M265,212 h1 v3 h-1z M265,211 h3 v1 h-3z M266,210 h1 v3 h-1z M266,208 h3 v1 h-3z M267,207 h1 v3 h-1z M267,206 h3 v1 h-3z M268,205 h1 v3 h-1z M268,204 h3 v1 h-3z M269,203 h1 v3 h-1z M269,203 h3 v1 h-3z M270,202 h1 v3 h-1z M271,201 h3 v1 h-3z M272,200 h1 v3 h-1z M272,200 h3 v1 h-3z M273,199 h1 v3 h-1z M273,198 h3 v1 h-3z M274,197 h1 v3 h-1z M274,197 h3 v1 h-3z M275,196 h1 v3 h-1z M275,196 h3 v1 h-3z M276,195 h1 v3 h-1z M276,195 h3 v1 h-3z M277,194 h1 v3 h-1z M277,195 h3 v1 h-3z M278,194 h1 v3 h-1z M278,195 h3 v1 h-3z M279,194 h1 v3 h-1z M280,195 h3 v1 h-3z M281,194 h1 v3 h-1z M281,195 h3 v1 h-3z M282,194 h1 v3 h-1z M282,196 h3 v1 h-3z M283,195 h1 v3 h-1z M283,197 h3 v1 h-3z M284,196 h1 v3 h-1z M284,198 h3 v1 h-3z M285,197 h1 v3 h-1z M285,199 h3 v1 h-3z M286,198 h1 v3 h-1z M286,200 h3 v1 h-3z M287,199 h1 v3 h-1z M288,202 h3 v1 h-3z M289,201 h1 v3 h-1z M289,203 h3 v1 h-3z M290,202 h1 v3 h-1z M290,204 h3 v1 h-3z M291,203 h1 v3 h-1z M291,207 h3 v1 h-3z M292,206 h1 v3 h-1z M292,211 h3 v1 h-3z M293,210 h1 v3 h-1z M293,213 h3 v1 h-3z M294,212 h1 v3 h-1z M294,216 h3 v1 h-3z M295,215 h1 v3 h-1z M296,219 h3 v1 h-3z M297,218 h1 v3 h-1z M297,222 h3 v1 h-3z M298,221 h1 v3 h-1z M298,225 h3 v1 h-3z M299,224 h1 v3 h-1z M299,228 h3 v1 h-3z M300,227 h1 v3 h-1z M300,231 h3 v1 h-3z M301,230 h1 v3 h-1z M301,234 h3 v1 h-3z M302,233 h1 v3 h-1z M302,239 h3 v1 h-3z M303,238 h1 v3 h-1z M304,245 h3 v1 h-3z M305,244 h1 v3 h-1z M305,248 h3 v1 h-3z M306,247 h1 v3 h-1z M306,249 h3 v1 h-3z M307,248 h1 v3 h-1z M307,252 h3 v1 h-3z M308,251 h1 v3 h-1z M308,259 h3 v1 h-3z M309,258 h1 v3 h-1z M309,267 h3 v1 h-3z M310,266 h1 v3 h-1z M310,272 h3 v1 h-3z M311,271 h1 v3 h-1z M312,276 h3 v1 h-3z M313,275 h1 v3 h-1z M313,279 h3 v1 h-3z M314,278 h1 v3 h-1z M314,282 h3 v1 h-3z M315,281 h1 v3 h-1z M315,285 h3 v1 h-3z M316,284 h1 v3 h-1z M316,289 h3 v1 h-3z M317,288 h1 v3 h-1z M317,293 h3 v1 h-3z M318,292 h1 v3 h-1z M318,297 h3 v1 h-3z M319,296 h1 v3 h-1z M320,301 h3 v1 h-3z M321,300 h1 v3 h-1z M321,304 h3 v1 h-3z M322,303 h1 v3 h-1z M322,307 h3 v1 h-3z M323,306 h1 v3 h-1z M323,310 h3 v1 h-3z M324,309 h1 v3 h-1z M324,312 h3 v1 h-3z M325,311 h1 v3 h-1z M325,313 h3 v1 h-3z M326,312 h1 v3 h-1z M326,313 h3 v1 h-3z M327,312 h1 v3 h-1z " fill="#FF00FF" shape-rendering="crispEdges"/><path d="M239,275 h3 v1 h-3z M240,274 h1 v3 h-1z M240,274 h3 v1 h-3z M241,273 h1 v3 h-1z M241,273 h3 v1 h-3z M242,272 h1 v3 h-1z M241,272 h3 v1 h-3z M242,271 h1 v3 h-1z M242,272 h3 v1 h-3z M243,271 h1 v3 h-1z M243,271 h3 v1 h-3z M244,270 h1 v3 h-1z M244,270 h3 v1 h-3z M245,269 h1 v3 h-1z M245,269 h3 v1 h-3z M246,268 h1 v3 h-1z M246,268 h3 v1 h-3z M247,267 h1 v3 h-1z M247,267 h3 v1 h-3z M248,266 h1 v3 h-1z M248,266 h3 v1 h-3z M249,265 h1 v3 h-1z M249,264 h3 v1 h-3z M250,263 h1 v3 h-1z M250,262 h3 v1 h-3z M251,261 h1 v3 h-1z M251,259 h3 v1 h-3z M252,258 h1 v3 h-1z M252,257 h3 v1 h-3z M253,256 h1 v3 h-1z M253,255 h3 v1 h-3z M254,254 h1 v3 h-1z M254,253 h3 v1 h-3z M255,252 h1 v3 h-1z M255,251 h3 v1 h-3z M256,250 h1 v3 h-1z M256,249 h3 v1 h-3z M257,248 h1 v3 h-1z M257,247 h3 v1 h-3z M258,246 h1 v3 h-1z M258,245 h3 v1 h-3z M259,244 h1 v3 h-1z M259,243 h3 v1 h-3z M260,242 h1 v3 h-1z M260,241 h3 v1 h-3z M261,240 h1 v3 h-1z M261,239 h3 v1 h-3z M262,238 h1 v3 h-1z M262,236 h3 v1 h-3z M263,235 h1 v3 h-1z M263,234 h3 v1 h-3z M264,233 h1 v3 h-1z M264,231 h3 v1 h-3z M265,230 h1 v3 h-1z M265,228 h3 v1 h-3z M266,227 h1 v3 h-1z M266,225 h3 v1 h-3z M267,224 h1 v3 h-1z M267,222 h3 v1 h-3z M268,221 h1 v3 h-1z M268,220 h3 v1 h-3z M269,219 h1 v3 h-1z M269,217 h3 v1 h-3z M270,216 h1 v3 h-1z M270,214 h3 v1 h-3z M271,213 h1 v3 h-1z M271,211 h3 v1 h-3z M272,210 h1 v3 h-1z M272,209 h3 v1 h-3z M273,208 h1 v3 h-1z M273,206 h3 v1 h-3z M274,205 h1 v3 h-1z M274,204 h3 v1 h-3z M275,203 h1 v3 h-1z M275,201 h3 v1 h-3z M276,200 h1 v3 h-1z M276,199 h3 v1 h-3z M277,198 h1 v3 h-1z M277,197 h3 v1 h-3z M278,196 h1 v3 h-1z M278,195 h3 v1 h-3z M279,194 h1 v3 h-1z M279,193 h3 v1 h-3z M280,192 h1 v3 h-1z M280,191 h3 v1 h-3z M281,190 h1 v3 h-1z M281,189 h3 v1 h-3z M282,188 h1 v3 h-1z M282,187 h3 v1 h-3z M283,186 h1 v3 h-1z M283,186 h3 v1 h-3z M284,185 h1 v3 h-1z M284,185 h3 v1 h-3z M285,184 h1 v3 h-1z M285,184 h3 v1 h-3z M286,183 h1 v3 h-1z M286,183 h3 v1 h-3z M287,182 h1 v3 h-1z M287,182 h3 v1 h-3z M288,181 h1 v3 h-1z M288,181 h3 v1 h-3z M289,180 h1 v3 h-1z M289,181 h3 v1 h-3z M290,180 h1 v3 h-1z M290,180 h3 v1 h-3z M291,179 h1 v3 h-1z M291,180 h3 v1 h-3z M292,179 h1 v3 h-1z M292,180 h3 v1 h-3z M293,179 h1 v3 h-1z M293,181 h3 v1 h-3z M294,180 h1 v3 h-1z M294,181 h3 v1 h-3z M295,180 h1 v3 h-1z M295,182 h3 v1 h-3z M296,181 h1 v3 h-1z M296,182 h3 v1 h-3z M297,181 h1 v3 h-1z M297,183 h3 v1 h-3z M298,182 h1 v3 h-1z M298,184 h3 v1 h-3z M299,183 h1 v3 h-1z M300,186 h3 v1 h-3z M301,185 h1 v3 h-1z M301,187 h3 v1 h-3z M302,186 h1 v3 h-1z M302,189 h3 v1 h-3z M303,188 h1 v3 h-1z M303,191 h3 v1 h-3z M304,190 h1 v3 h-1z M304,192 h3 v1 h-3z M305,191 h1 v3 h-1z M305,195 h3 v1 h-3z M306,194 h1 v3 h-1z M306,197 h3 v1 h-3z M307,196 h1 v3 h-1z M307,199 h3 v1 h-3z M308,198 h1 v3 h-1z M308,201 h3 v1 h-3z M309,200 h1 v3 h-1z M309,204 h3 v1 h-3z M310,203 h1 v3 h-1z M310,207 h3 v1 h-3z M311,206 h1 v3 h-1z M311,210 h3 v1 h-3z M312,209 h1 v3 h-1z M312,212 h3 v1 h-3z M313,211 h1 v3 h-1z M313,215 h3 v1 h-3z M314,214 h1 v3 h-1z M314,217 h3 v1 h-3z M315,216 h1 v3 h-1z M315,220 h3 v1 h-3z M316,219 h1 v3 h-1z M316,223 h3 v1 h-3z M317,222 h1 v3 h-1z M317,226 h3 v1 h-3z M318,225 h1 v3 h-1z M318,230 h3 v1 h-3z M319,229 h1 v3 h-1z M319,234 h3 v1 h-3z M320,233 h1 v3 h-1z M320,238 h3 v1 h-3z M321,237 h1 v3 h-1z M321,241 h3 v1 h-3z M322,240 h1 v3 h-1z M323,245 h3 v1 h-3z M324,244 h1 v3 h-1z M324,249 h3 v1 h-3z M325,248 h1 v3 h-1z M325,252 h3 v1 h-3z M326,251 h1 v3 h-1z M326,256 h3 v1 h-3z M327,255 h1 v3 h-1z M327,259 h3 v1 h-3z M328,258 h1 v3 h-1z M328,262 h3 v1 h-3z M329,261 h1 v3 h-1z M329,265 h3 v1 h-3z M330,264 h1 v3 h-1z M330,269 h3 v1 h-3z M331,268 h1 v3 h-1z M331,272 h3 v1 h-3z M332,271 h1 v3 h-1z M332,275 h3 v1 h-3z M333,274 h1 v3 h-1z M333,278 h3 v1 h-3z M334,277 h1 v3 h-1z M334,281 h3 v1 h-3z M335,280 h1 v3 h-1z M335,284 h3 v1 h-3z M336,283 h1 v3 h-1z M336,286 h3 v1 h-3z M337,285 h1 v3 h-1z M337,289 h3 v1 h-3z M338,288 h1 v3 h-1z M338,292 h3 v1 h-3z M339,291 h1 v3 h-1z M339,294 h3 v1 h-3z M340,293 h1 v3 h-1z M340,297 h3 v1 h-3z M341,296 h1 v3 h-1z M341,299 h3 v1 h-3z M342,298 h1 v3 h-1z M342,302 h3 v1 h-3z M343,301 h1 v3 h-1z M343,304 h3 v1 h-3z M344,303 h1 v3 h-1z M344,306 h3 v1 h-3z M345,305 h1 v3 h-1z M345,308 h3 v1 h-3z M346,307 h1 v3 h-1z M346,311 h3 v1 h-3z M347,310 h1 v3 h-1z M348,313 h3 v1 h-3z M349,312 h1 v3 h-1z M349,315 h3 v1 h-3z M350,314 h1 v3 h-1z M350,317 h3 v1 h-3z M351,316 h1 v3 h-1z M351,318 h3 v1 h-3z M352,317 h1 v3 h-1z M352,320 h3 v1 h-3z M353,319 h1 v3 h-1z " fill="#000000" shape-rendering="crispEdges"/><path d="M266,273 h3 v1 h-3z M267,272 h1 v3 h-1z M267,273 h3 v1 h-3z M268,272 h1 v3 h-1z M268,273 h3 v1 h-3z M269,272 h1 v3 h-1z M268,273 h3 v1 h-3z M269,272 h1 v3 h-1z M269,273 h3 v1 h-3z M270,272 h1 v3 h-1z M270,273 h3 v1 h-3z M271,272 h1 v3 h-1z M271,273 h3 v1 h-3z M272,272 h1 v3 h-1z M272,272 h3 v1 h-3z M273,271 h1 v3 h-1z M273,272 h3 v1 h-3z M274,271 h1 v3 h-1z M274,272 h3 v1 h-3z M275,271 h1 v3 h-1z M275,271 h3 v1 h-3z M276,270 h1 v3 h-1z M276,271 h3 v1 h-3z M277,270 h1 v3 h-1z M277,270 h3 v1 h-3z M278,269 h1 v3 h-1z M278,270 h3 v1 h-3z M279,269 h1 v3 h-1z M279,269 h3 v1 h-3z M280,268 h1 v3 h-1z M280,268 h3 v1 h-3z M281,267 h1 v3 h-1z M281,267 h3 v1 h-3z M282,266 h1 v3 h-1z M282,266 h3 v1 h-3z M283,265 h1 v3 h-1z M282,265 h3 v1 h-3z M283,264 h1 v3 h-1z M283,264 h3 v1 h-3z M284,263 h1 v3 h-1z M284,263 h3 v1 h-3z M285,262 h1 v3 h-1z M285,262 h3 v1 h-3z M286,261 h1 v3 h-1z M286,261 h3 v1 h-3z M287,260 h1 v3 h-1z M287,259 h3 v1 h-3z M288,258 h1 v3 h-1z M288,258 h3 v1 h-3z M289,257 h1 v3 h-1z M289,256 h3 v1 h-3z M290,255 h1 v3 h-1z M290,255 h3 v1 h-3z M291,254 h1 v3 h-1z M291,253 h3 v1 h-3z M292,252 h1 v3 h-1z M292,251 h3 v1 h-3z M293,250 h1 v3 h-1z M293,250 h3 v1 h-3z M294,249 h1 v3 h-1z M294,248 h3 v1 h-3z M295,247 h1 v3 h-1z M295,246 h3 v1 h-3z M296,245 h1 v3 h-1z M296,244 h3 v1 h-3z M297,243 h1 v3 h-1z M297,242 h3 v1 h-3z M298,241 h1 v3 h-1z M298,239 h3 v1 h-3z M299,238 h1 v3 h-1z M299,237 h3 v1 h-3z M300,236 h1 v3 h-1z M300,235 h3 v1 h-3z M301,234 h1 v3 h-1z M300,232 h3 v1 h-3z M301,231 h1 v3 h-1z M301,229 h3 v1 h-3z M302,228 h1 v3 h-1z M302,226 h3 v1 h-3z M303,225 h1 v3 h-1z M303,223 h3 v1 h-3z M304,222 h1 v3 h-1z M304,219 h3 v1 h-3z M305,218 h1 v3 h-1z M305,217 h3 v1 h-3z M306,216 h1 v3 h-1z M306,216 h3 v1 h-3z M307,215 h1 v3 h-1z M307,214 h3 v1 h-3z M308,213 h1 v3 h-1z M308,210 h3 v1 h-3z M309,209 h1 v3 h-1z M309,207 h3 v1 h-3z M310,206 h1 v3 h-1z M310,203 h3 v1 h-3z M311,202 h1 v3 h-1z M311,199 h3 v1 h-3z M312,198 h1 v3 h-1z M312,196 h3 v1 h-3z M313,195 h1 v3 h-1z M313,192 h3 v1 h-3z M314,191 h1 v3 h-1z M314,189 h3 v1 h-3z M315,188 h1 v3 h-1z M315,185 h3 v1 h-3z M316,184 h1 v3 h-1z M316,182 h3 v1 h-3z M317,181 h1 v3 h-1z M317,178 h3 v1 h-3z M318,177 h1 v3 h-1z M318,175 h3 v1 h-3z M319,174 h1 v3 h-1z M319,172 h3 v1 h-3z M320,171 h1 v3 h-1z M320,170 h3 v1 h-3z M321,169 h1 v3 h-1z M321,167 h3 v1 h-3z M322,166 h1 v3 h-1z M322,165 h3 v1 h-3z M323,164 h1 v3 h-1z M323,163 h3 v1 h-3z M324,162 h1 v3 h-1z M324,161 h3 v1 h-3z M325,160 h1 v3 h-1z M325,160 h3 v1 h-3z M326,159 h1 v3 h-1z M326,158 h3 v1 h-3z M327,157 h1 v3 h-1z M327,157 h3 v1 h-3z M328,156 h1 v3 h-1z M328,156 h3 v1 h-3z M329,155 h1 v3 h-1z M329,156 h3 v1 h-3z M330,155 h1 v3 h-1z M330,155 h3 v1 h-3z M331,154 h1 v3 h-1z M331,155 h3 v1 h-3z M332,154 h1 v3 h-1z M332,155 h3 v1 h-3z M333,154 h1 v3 h-1z M333,155 h3 v1 h-3z M334,154 h1 v3 h-1z M334,156 h3 v1 h-3z M335,155 h1 v3 h-1z M335,157 h3 v1 h-3z M336,156 h1 v3 h-1z M336,158 h3 v1 h-3z M337,157 h1 v3 h-1z M337,159 h3 v1 h-3z M338,158 h1 v3 h-1z M338,161 h3 v1 h-3z M339,160 h1 v3 h-1z M339,162 h3 v1 h-3z M340,161 h1 v3 h-1z M340,164 h3 v1 h-3z M341,163 h1 v3 h-1z M341,166 h3 v1 h-3z M342,165 h1 v3 h-1z M342,169 h3 v1 h-3z M343,168 h1 v3 h-1z M343,171 h3 v1 h-3z M344,170 h1 v3 h-1z M344,174 h3 v1 h-3z M345,173 h1 v3 h-1z M345,177 h3 v1 h-3z M346,176 h1 v3 h-1z M346,179 h3 v1 h-3z M347,178 h1 v3 h-1z M347,182 h3 v1 h-3z M348,181 h1 v3 h-1z M348,186 h3 v1 h-3z M349,185 h1 v3 h-1z M349,189 h3 v1 h-3z M350,188 h1 v3 h-1z M350,192 h3 v1 h-3z M351,191 h1 v3 h-1z M351,195 h3 v1 h-3z M352,194 h1 v3 h-1z M352,199 h3 v1 h-3z M353,198 h1 v3 h-1z M353,203 h3 v1 h-3z M354,202 h1 v3 h-1z M354,209 h3 v1 h-3z M355,208 h1 v3 h-1z M355,215 h3 v1 h-3z M356,214 h1 v3 h-1z M356,220 h3 v1 h-3z M357,219 h1 v3 h-1z M357,223 h3 v1 h-3z M358,222 h1 v3 h-1z M358,227 h3 v1 h-3z M359,226 h1 v3 h-1z M359,230 h3 v1 h-3z M360,229 h1 v3 h-1z M360,234 h3 v1 h-3z M361,233 h1 v3 h-1z M361,238 h3 v1 h-3z M362,237 h1 v3 h-1z M362,242 h3 v1 h-3z M363,241 h1 v3 h-1z M363,246 h3 v1 h-3z M364,245 h1 v3 h-1z M364,250 h3 v1 h-3z M365,249 h1 v3 h-1z M365,253 h3 v1 h-3z M366,252 h1 v3 h-1z M366,257 h3 v1 h-3z M367,256 h1 v3 h-1z M366,261 h3 v1 h-3z M367,260 h1 v3 h-1z M367,264 h3 v1 h-3z M368,263 h1 v3 h-1z M368,268 h3 v1 h-3z M369,267 h1 v3 h-1z M369,271 h3 v1 h-3z M370,270 h1 v3 h-1z M370,274 h3 v1 h-3z M371,273 h1 v3 h-1z M371,277 h3 v1 h-3z M372,276 h1 v3 h-1z M372,280 h3 v1 h-3z M373,279 h1 v3 h-1z M373,283 h3 v1 h-3z M374,282 h1 v3 h-1z M374,285 h3 v1 h-3z M375,284 h1 v3 h-1z M375,287 h3 v1 h-3z M376,286 h1 v3 h-1z M376,289 h3 v1 h-3z M377,288 h1 v3 h-1z M377,291 h3 v1 h-3z M378,290 h1 v3 h-1z M378,293 h3 v1 h-3z M379,292 h1 v3 h-1z M379,294 h3 v1 h-3z M380,293 h1 v3 h-1z " fill="#808080" shape-rendering="crispEdges"/><path d="M291,248 h3 v1 h-3z M292,247 h1 v3 h-1z M292,248 h3 v1 h-3z M293,247 h1 v3 h-1z M292,248 h3 v1 h-3z M293,247 h1 v3 h-1z M293,248 h3 v1 h-3z M294,247 h1 v3 h-1z M293,248 h3 v1 h-3z M294,247 h1 v3 h-1z M294,248 h3 v1 h-3z M295,247 h1 v3 h-1z M294,248 h3 v1 h-3z M295,247 h1 v3 h-1z M295,247 h3 v1 h-3z M296,246 h1 v3 h-1z M295,247 h3 v1 h-3z M296,246 h1 v3 h-1z M296,247 h3 v1 h-3z M297,246 h1 v3 h-1z M296,247 h3 v1 h-3z M297,246 h1 v3 h-1z M297,247 h3 v1 h-3z M298,246 h1 v3 h-1z M297,247 h3 v1 h-3z M298,246 h1 v3 h-1z M298,246 h3 v1 h-3z M299,245 h1 v3 h-1z M298,246 h3 v1 h-3z M299,245 h1 v3 h-1z M299,246 h3 v1 h-3z M300,245 h1 v3 h-1z M299,246 h3 v1 h-3z M300,245 h1 v3 h-1z M300,245 h3 v1 h-3z M301,244 h1 v3 h-1z M300,245 h3 v1 h-3z M301,244 h1 v3 h-1z M301,245 h3 v1 h-3z M302,244 h1 v3 h-1z M301,244 h3 v1 h-3z M302,243 h1 v3 h-1z M302,244 h3 v1 h-3z M303,243 h1 v3 h-1z M302,244 h3 v1 h-3z M303,243 h1 v3 h-1z M303,244 h3 v1 h-3z M304,243 h1 v3 h-1z M303,243 h3 v1 h-3z M304,242 h1 v3 h-1z M304,243 h3 v1 h-3z M305,242 h1 v3 h-1z M304,242 h3 v1 h-3z M305,241 h1 v3 h-1z M305,242 h3 v1 h-3z M306,241 h1 v3 h-1z M305,242 h3 v1 h-3z M306,241 h1 v3 h-1z M306,241 h3 v1 h-3z M307,240 h1 v3 h-1z M306,241 h3 v1 h-3z M307,240 h1 v3 h-1z M307,240 h3 v1 h-3z M308,239 h1 v3 h-1z M307,240 h3 v1 h-3z M308,239 h1 v3 h-1z M308,240 h3 v1 h-3z M309,239 h1 v3 h-1z M308,239 h3 v1 h-3z M309,238 h1 v3 h-1z M309,239 h3 v1 h-3z M310,238 h1 v3 h-1z M309,238 h3 v1 h-3z M310,237 h1 v3 h-1z M310,238 h3 v1 h-3z M311,237 h1 v3 h-1z M310,237 h3 v1 h-3z M311,236 h1 v3 h-1z M311,237 h3 v1 h-3z M312,236 h1 v3 h-1z M311,236 h3 v1 h-3z M312,235 h1 v3 h-1z M312,236 h3 v1 h-3z M313,235 h1 v3 h-1z M312,235 h3 v1 h-3z M313,234 h1 v3 h-1z M313,235 h3 v1 h-3z M314,234 h1 v3 h-1z M313,234 h3 v1 h-3z M314,233 h1 v3 h-1z M314,234 h3 v1 h-3z M315,233 h1 v3 h-1z M314,233 h3 v1 h-3z M315,232 h1 v3 h-1z M315,233 h3 v1 h-3z M316,232 h1 v3 h-1z M315,232 h3 v1 h-3z M316,231 h1 v3 h-1z M316,232 h3 v1 h-3z M317,231 h1 v3 h-1z M316,231 h3 v1 h-3z M317,230 h1 v3 h-1z M317,231 h3 v1 h-3z M318,230 h1 v3 h-1z M317,230 h3 v1 h-3z M318,229 h1 v3 h-1z M318,230 h3 v1 h-3z M319,229 h1 v3 h-1z M318,229 h3 v1 h-3z M319,228 h1 v3 h-1z M319,229 h3 v1 h-3z M320,228 h1 v3 h-1z M319,228 h3 v1 h-3z M320,227 h1 v3 h-1z M320,228 h3 v1 h-3z M321,227 h1 v3 h-1z M321,227 h3 v1 h-3z M322,226 h1 v3 h-1z M321,227 h3 v1 h-3z M322,226 h1 v3 h-1z M322,226 h3 v1 h-3z M323,225 h1 v3 h-1z M322,225 h3 v1 h-3z M323,224 h1 v3 h-1z M323,225 h3 v1 h-3z M324,224 h1 v3 h-1z M323,224 h3 v1 h-3z M324,223 h1 v3 h-1z M324,224 h3 v1 h-3z M325,223 h1 v3 h-1z M324,223 h3 v1 h-3z M325,222 h1 v3 h-1z M325,223 h3 v1 h-3z M326,222 h1 v3 h-1z M325,222 h3 v1 h-3z M326,221 h1 v3 h-1z M326,221 h3 v1 h-3z M327,220 h1 v3 h-1z M326,221 h3 v1 h-3z M327,220 h1 v3 h-1z M327,220 h3 v1 h-3z M328,219 h1 v3 h-1z M327,220 h3 v1 h-3z M328,219 h1 v3 h-1z M328,219 h3 v1 h-3z M329,218 h1 v3 h-1z M328,219 h3 v1 h-3z M329,218 h1 v3 h-1z M329,218 h3 v1 h-3z M330,217 h1 v3 h-1z M329,218 h3 v1 h-3z M330,217 h1 v3 h-1z M330,217 h3 v1 h-3z M331,216 h1 v3 h-1z M330,216 h3 v1 h-3z M331,215 h1 v3 h-1z M331,216 h3 v1 h-3z M332,215 h1 v3 h-1z M331,215 h3 v1 h-3z M332,214 h1 v3 h-1z M332,215 h3 v1 h-3z M333,214 h1 v3 h-1z M332,214 h3 v1 h-3z M333,213 h1 v3 h-1z M333,214 h3 v1 h-3z M334,213 h1 v3 h-1z M333,213 h3 v1 h-3z M334,212 h1 v3 h-1z M334,213 h3 v1 h-3z M335,212 h1 v3 h-1z M334,212 h3 v1 h-3z M335,211 h1 v3 h-1z M335,212 h3 v1 h-3z M336,211 h1 v3 h-1z M335,211 h3 v1 h-3z M336,210 h1 v3 h-1z M336,211 h3 v1 h-3z M337,210 h1 v3 h-1z M336,210 h3 v1 h-3z M337,209 h1 v3 h-1z M337,210 h3 v1 h-3z M338,209 h1 v3 h-1z M338,209 h3 v1 h-3z M339,208 h1 v3 h-1z M338,209 h3 v1 h-3z M339,208 h1 v3 h-1z M339,208 h3 v1 h-3z M340,207 h1 v3 h-1z M339,208 h3 v1 h-3z M340,207 h1 v3 h-1z M340,207 h3 v1 h-3z M341,206 h1 v3 h-1z M340,207 h3 v1 h-3z M341,206 h1 v3 h-1z M341,206 h3 v1 h-3z M342,205 h1 v3 h-1z M341,206 h3 v1 h-3z M342,205 h1 v3 h-1z M342,206 h3 v1 h-3z M343,205 h1 v3 h-1z M342,205 h3 v1 h-3z M343,204 h1 v3 h-1z M343,205 h3 v1 h-3z M344,204 h1 v3 h-1z M343,204 h3 v1 h-3z M344,203 h1 v3 h-1z M344,204 h3 v1 h-3z M345,203 h1 v3 h-1z M344,204 h3 v1 h-3z M345,203 h1 v3 h-1z M345,203 h3 v1 h-3z M346,202 h1 v3 h-1z M345,203 h3 v1 h-3z M346,202 h1 v3 h-1z M346,203 h3 v1 h-3z M347,202 h1 v3 h-1z M346,202 h3 v1 h-3z M347,201 h1 v3 h-1z M347,202 h3 v1 h-3z M348,201 h1 v3 h-1z M347,202 h3 v1 h-3z M348,201 h1 v3 h-1z M348,201 h3 v1 h-3z M349,200 h1 v3 h-1z M349,201 h3 v1 h-3z M350,200 h1 v3 h-1z M349,201 h3 v1 h-3z M350,200 h1 v3 h-1z M350,200 h3 v1 h-3z M351,199 h1 v3 h-1z M350,200 h3 v1 h-3z M351,199 h1 v3 h-1z M351,200 h3 v1 h-3z M352,199 h1 v3 h-1z M351,200 h3 v1 h-3z M352,199 h1 v3 h-1z M352,199 h3 v1 h-3z M353,198 h1 v3 h-1z M352,199 h3 v1 h-3z M353,198 h1 v3 h-1z M353,199 h3 v1 h-3z M354,198 h1 v3 h-1z M353,199 h3 v1 h-3z M354,198 h1 v3 h-1z M354,199 h3 v1 h-3z M355,198 h1 v3 h-1z M354,198 h3 v1 h-3z M355,197 h1 v3 h-1z M355,198 h3 v1 h-3z M356,197 h1 v3 h-1z M355,198 h3 v1 h-3z M356,197 h1 v3 h-1z M356,198 h3 v1 h-3z M357,197 h1 v3 h-1z M356,198 h3 v1 h-3z M357,197 h1 v3 h-1z M357,198 h3 v1 h-3z M358,197 h1 v3 h-1z M357,198 h3 v1 h-3z M358,197 h1 v3 h-1z M358,198 h3 v1 h-3z M359,197 h1 v3 h-1z M359,198 h3 v1 h-3z M360,197 h1 v3 h-1z M359,198 h3 v1 h-3z M360,197 h1 v3 h-1z M360,198 h3 v1 h-3z M361,197 h1 v3 h-1z M360,198 h3 v1 h-3z M361,197 h1 v3 h-1z M361,198 h3 v1 h-3z M362,197 h1 v3 h-1z M361,198 h3 v1 h-3z M362,197 h1 v3 h-1z M362,198 h3 v1 h-3z M363,197 h1 v3 h-1z M362,198 h3 v1 h-3z M363,197 h1 v3 h-1z M363,198 h3 v1 h-3z M364,197 h1 v3 h-1z M363,198 h3 v1 h-3z M364,197 h1 v3 h-1z M364,198 h3 v1 h-3z M365,197 h1 v3 h-1z M364,199 h3 v1 h-3z M365,198 h1 v3 h-1z M365,199 h3 v1 h-3z M366,198 h1 v3 h-1z M365,199 h3 v1 h-3z M366,198 h1 v3 h-1z M366,199 h3 v1 h-3z M367,198 h1 v3 h-1z M366,199 h3 v1 h-3z M367,198 h1 v3 h-1z M367,200 h3 v1 h-3z M368,199 h1 v3 h-1z M368,200 h3 v1 h-3z M369,199 h1 v3 h-1z M368,200 h3 v1 h-3z M369,199 h1 v3 h-1z M369,200 h3 v1 h-3z M370,199 h1 v3 h-1z M369,201 h3 v1 h-3z M370,200 h1 v3 h-1z M370,201 h3 v1 h-3z M371,200 h1 v3 h-1z M370,201 h3 v1 h-3z M371,200 h1 v3 h-1z M371,202 h3 v1 h-3z M372,201 h1 v3 h-1z M371,202 h3 v1 h-3z M372,201 h1 v3 h-1z M372,203 h3 v1 h-3z M373,202 h1 v3 h-1z M372,203 h3 v1 h-3z M373,202 h1 v3 h-1z M373,203 h3 v1 h-3z M374,202 h1 v3 h-1z M373,204 h3 v1 h-3z M374,203 h1 v3 h-1z M374,204 h3 v1 h-3z M375,203 h1 v3 h-1z M374,205 h3 v1 h-3z M375,204 h1 v3 h-1z M375,205 h3 v1 h-3z M376,204 h1 v3 h-1z M375,206 h3 v1 h-3z M376,205 h1 v3 h-1z M376,206 h3 v1 h-3z M377,205 h1 v3 h-1z M376,207 h3 v1 h-3z M377,206 h1 v3 h-1z M377,207 h3 v1 h-3z M378,206 h1 v3 h-1z M378,208 h3 v1 h-3z M379,207 h1 v3 h-1z M378,208 h3 v1 h-3z M379,207 h1 v3 h-1z M379,209 h3 v1 h-3z M380,208 h1 v3 h-1z M379,210 h3 v1 h-3z M380,209 h1 v3 h-1z M380,210 h3 v1 h-3z M381,209 h1 v3 h-1z M380,211 h3 v1 h-3z M381,210 h1 v3 h-1z M381,212 h3 v1 h-3z M382,211 h1 v3 h-1z M381,212 h3 v1 h-3z M382,211 h1 v3 h-1z M382,213 h3 v1 h-3z M383,212 h1 v3 h-1z M382,214 h3 v1 h-3z M383,213 h1 v3 h-1z M383,214 h3 v1 h-3z M384,213 h1 v3 h-1z M383,215 h3 v1 h-3z M384,214 h1 v3 h-1z M384,216 h3 v1 h-3z M385,215 h1 v3 h-1z M384,216 h3 v1 h-3z M385,215 h1 v3 h-1z M385,217 h3 v1 h-3z M386,216 h1 v3 h-1z M385,218 h3 v1 h-3z M386,217 h1 v3 h-1z M386,219 h3 v1 h-3z M387,218 h1 v3 h-1z M386,220 h3 v1 h-3z M387,219 h1 v3 h-1z M387,220 h3 v1 h-3z M388,219 h1 v3 h-1z M388,221 h3 v1 h-3z M389,220 h1 v3 h-1z M388,222 h3 v1 h-3z M389,221 h1 v3 h-1z M389,223 h3 v1 h-3z M390,222 h1 v3 h-1z M389,224 h3 v1 h-3z M390,223 h1 v3 h-1z M390,225 h3 v1 h-3z M391,224 h1 v3 h-1z M390,225 h3 v1 h-3z M391,224 h1 v3 h-1z M391,226 h3 v1 h-3z M392,225 h1 v3 h-1z M391,227 h3 v1 h-3z M392,226 h1 v3 h-1z M392,228 h3 v1 h-3z M393,227 h1 v3 h-1z M392,229 h3 v1 h-3z M393,228 h1 v3 h-1z M393,230 h3 v1 h-3z M394,229 h1 v3 h-1z M393,231 h3 v1 h-3z M394,230 h1 v3 h-1z M394,232 h3 v1 h-3z M395,231 h1 v3 h-1z M394,233 h3 v1 h-3z M395,232 h1 v3 h-1z M395,234 h3 v1 h-3z M396,233 h1 v3 h-1z M395,235 h3 v1 h-3z M396,234 h1 v3 h-1z M396,236 h3 v1 h-3z M397,235 h1 v3 h-1z M396,237 h3 v1 h-3z M397,236 h1 v3 h-1z M397,238 h3 v1 h-3z M398,237 h1 v3 h-1z M397,239 h3 v1 h-3z M398,238 h1 v3 h-1z M398,240 h3 v1 h-3z M399,239 h1 v3 h-1z M399,241 h3 v1 h-3z M400,240 h1 v3 h-1z M399,242 h3 v1 h-3z M400,241 h1 v3 h-1z M400,243 h3 v1 h-3z M401,242 h1 v3 h-1z M400,244 h3 v1 h-3z M401,243 h1 v3 h-1z M401,245 h3 v1 h-3z M402,244 h1 v3 h-1z M401,246 h3 v1 h-3z M402,245 h1 v3 h-1z M402,247 h3 v1 h-3z M403,246 h1 v3 h-1z M402,248 h3 v1 h-3z M403,247 h1 v3 h-1z M403,249 h3 v1 h-3z M404,248 h1 v3 h-1z M403,251 h3 v1 h-3z M404,250 h1 v3 h-1z M404,252 h3 v1 h-3z M405,251 h1 v3 h-1z M404,253 h3 v1 h-3z M405,252 h1 v3 h-1z M405,254 h3 v1 h-3z M406,253 h1 v3 h-1z " fill="#800000" shape-rendering="crispEdges"/><path d="M317,215 h3 v1 h-3z M318,214 h1 v3 h-1z M318,213 h3 v1 h-3z M319,212 h1 v3 h-1z M319,210 h3 v1 h-3z M320,209 h1 v3 h-1z M320,208 h3 v1 h-3z M321,207 h1 v3 h-1z M321,206 h3 v1 h-3z M322,205 h1 v3 h-1z M322,204 h3 v1 h-3z M323,203 h1 v3 h-1z M323,202 h3 v1 h-3z M324,201 h1 v3 h-1z M324,200 h3 v1 h-3z M325,199 h1 v3 h-1z M325,198 h3 v1 h-3z M326,197 h1 v3 h-1z M326,196 h3 v1 h-3z M327,195 h1 v3 h-1z M327,194 h3 v1 h-3z M328,193 h1 v3 h-1z M328,192 h3 v1 h-3z M329,191 h1 v3 h-1z M329,190 h3 v1 h-3z M330,189 h1 v3 h-1z M330,188 h3 v1 h-3z M331,187 h1 v3 h-1z M331,187 h3 v1 h-3z M332,186 h1 v3 h-1z M332,185 h3 v1 h-3z M333,184 h1 v3 h-1z M333,183 h3 v1 h-3z M334,182 h1 v3 h-1z M334,181 h3 v1 h-3z M335,180 h1 v3 h-1z M335,179 h3 v1 h-3z M336,178 h1 v3 h-1z M336,178 h3 v1 h-3z M337,177 h1 v3 h-1z M337,176 h3 v1 h-3z M338,175 h1 v3 h-1z M338,174 h3 v1 h-3z M339,173 h1 v3 h-1z M339,173 h3 v1 h-3z M340,172 h1 v3 h-1z M341,171 h3 v1 h-3z M342,170 h1 v3 h-1z M342,170 h3 v1 h-3z M343,169 h1 v3 h-1z M343,168 h3 v1 h-3z M344,167 h1 v3 h-1z M344,167 h3 v1 h-3z M345,166 h1 v3 h-1z M345,166 h3 v1 h-3z M346,165 h1 v3 h-1z M346,164 h3 v1 h-3z M347,163 h1 v3 h-1z M347,163 h3 v1 h-3z M348,162 h1 v3 h-1z M348,162 h3 v1 h-3z M349,161 h1 v3 h-1z M349,161 h3 v1 h-3z M350,160 h1 v3 h-1z M350,159 h3 v1 h-3z M351,158 h1 v3 h-1z M351,158 h3 v1 h-3z M352,157 h1 v3 h-1z M352,158 h3 v1 h-3z M353,157 h1 v3 h-1z M353,157 h3 v1 h-3z M354,156 h1 v3 h-1z M354,156 h3 v1 h-3z M355,155 h1 v3 h-1z M355,155 h3 v1 h-3z M356,154 h1 v3 h-1z M356,155 h3 v1 h-3z M357,154 h1 v3 h-1z M357,154 h3 v1 h-3z M358,153 h1 v3 h-1z M358,154 h3 v1 h-3z M359,153 h1 v3 h-1z M359,154 h3 v1 h-3z M360,153 h1 v3 h-1z M360,154 h3 v1 h-3z M361,153 h1 v3 h-1z M361,154 h3 v1 h-3z M362,153 h1 v3 h-1z M362,154 h3 v1 h-3z M363,153 h1 v3 h-1z M363,155 h3 v1 h-3z M364,154 h1 v3 h-1z M365,155 h3 v1 h-3z M366,154 h1 v3 h-1z M366,156 h3 v1 h-3z M367,155 h1 v3 h-1z M367,157 h3 v1 h-3z M368,156 h1 v3 h-1z M368,158 h3 v1 h-3z M369,157 h1 v3 h-1z M369,159 h3 v1 h-3z M370,158 h1 v3 h-1z M370,160 h3 v1 h-3z M371,159 h1 v3 h-1z M371,161 h3 v1 h-3z M372,160 h1 v3 h-1z M372,163 h3 v1 h-3z M373,162 h1 v3 h-1z M373,164 h3 v1 h-3z M374,163 h1 v3 h-1z M374,166 h3 v1 h-3z M375,165 h1 v3 h-1z M375,168 h3 v1 h-3z M376,167 h1 v3 h-1z M376,170 h3 v1 h-3z M377,169 h1 v3 h-1z M377,172 h3 v1 h-3z M378,171 h1 v3 h-1z M378,174 h3 v1 h-3z M379,173 h1 v3 h-1z M379,176 h3 v1 h-3z M380,175 h1 v3 h-1z M380,178 h3 v1 h-3z M381,177 h1 v3 h-1z M381,180 h3 v1 h-3z M382,179 h1 v3 h-1z M382,182 h3 v1 h-3z M383,181 h1 v3 h-1z M383,185 h3 v1 h-3z M384,184 h1 v3 h-1z M384,187 h3 v1 h-3z M385,186 h1 v3 h-1z M385,189 h3 v1 h-3z M386,188 h1 v3 h-1z M386,192 h3 v1 h-3z M387,191 h1 v3 h-1z M387,194 h3 v1 h-3z M388,193 h1 v3 h-1z M388,197 h3 v1 h-3z M389,196 h1 v3 h-1z M389,200 h3 v1 h-3z M390,199 h1 v3 h-1z M390,203 h3 v1 h-3z M391,202 h1 v3 h-1z M391,205 h3 v1 h-3z M392,204 h1 v3 h-1z M392,208 h3 v1 h-3z M393,207 h1 v3 h-1z M393,210 h3 v1 h-3z M394,209 h1 v3 h-1z M394,212 h3 v1 h-3z M395,211 h1 v3 h-1z M395,215 h3 v1 h-3z M396,214 h1 v3 h-1z M396,218 h3 v1 h-3z M397,217 h1 v3 h-1z M397,221 h3 v1 h-3z M398,220 h1 v3 h-1z M398,224 h3 v1 h-3z M399,223 h1 v3 h-1z M399,226 h3 v1 h-3z M400,225 h1 v3 h-1z M400,229 h3 v1 h-3z M401,228 h1 v3 h-1z M401,232 h3 v1 h-3z M402,231 h1 v3 h-1z M402,235 h3 v1 h-3z M403,234 h1 v3 h-1z M403,238 h3 v1 h-3z M404,237 h1 v3 h-1z M404,241 h3 v1 h-3z M405,240 h1 v3 h-1z M405,244 h3 v1 h-3z M406,243 h1 v3 h-1z M406,246 h3 v1 h-3z M407,245 h1 v3 h-1z M407,248 h3 v1 h-3z M408,247 h1 v3 h-1z M408,250 h3 v1 h-3z M409,249 h1 v3 h-1z M409,252 h3 v1 h-3z M410,251 h1 v3 h-1z M411,254 h3 v1 h-3z M412,253 h1 v3 h-1z M412,256 h3 v1 h-3z M413,255 h1 v3 h-1z M413,257 h3 v1 h-3z M414,256 h1 v3 h-1z M414,259 h3 v1 h-3z M415,258 h1 v3 h-1z M415,261 h3 v1 h-3z M416,260 h1 v3 h-1z M416,263 h3 v1 h-3z M417,262 h1 v3 h-1z M417,265 h3 v1 h-3z M418,264 h1 v3 h-1z M418,266 h3 v1 h-3z M419,265 h1 v3 h-1z M419,268 h3 v1 h-3z M420,267 h1 v3 h-1z M420,270 h3 v1 h-3z M421,269 h1 v3 h-1z M421,271 h3 v1 h-3z M422,270 h1 v3 h-1z M422,273 h3 v1 h-3z M423,272 h1 v3 h-1z M423,275 h3 v1 h-3z M424,274 h1 v3 h-1z M424,276 h3 v1 h-3z M425,275 h1 v3 h-1z M425,277 h3 v1 h-3z M426,276 h1 v3 h-1z M426,279 h3 v1 h-3z M427,278 h1 v3 h-1z M427,280 h3 v1 h-3z M428,279 h1 v3 h-1z M428,281 h3 v1 h-3z M429,280 h1 v3 h-1z M429,282 h3 v1 h-3z M430,281 h1 v3 h-1z " fill="#808000" shape-rendering="crispEdges"/><path d="M344,186 h1 M345,184 h1 M346,183 h1 M348,181 h1 M349,180 h1 M350,179 h1 M351,177 h1 M353,176 h1 M354,174 h1 M355,173 h1 M356,172 h1 M357,171 h1 M359,169 h1 M360,168 h1 M361,167 h1 M362,166 h1 M364,165 h1 M365,164 h1 M366,164 h1 M367,163 h1 M369,162 h1 M370,162 h1 M371,161 h1 M372,161 h1 M373,160 h1 M375,160 h1 M376,160 h1 M377,160 h1 M378,160 h1 M380,160 h1 M381,160 h1 M382,160 h1 M383,161 h1 M385,161 h1 M386,162 h1 M387,162 h1 M388,163 h1 M390,164 h1 M391,165 h1 M392,166 h1 M393,167 h1 M394,169 h1 M396,170 h1 M397,172 h1 M398,173 h1 M399,175 h1 M401,176 h1 M402,178 h1 M403,180 h1 M404,182 h1 M406,184 h1 M407,186 h1 M408,188 h1 M409,190 h1 M410,192 h1 M412,194 h1 M413,196 h1 M414,199 h1 M415,201 h1 M417,203 h1 M418,206 h1 M419,208 h1 M420,211 h1 M421,213 h1 M423,215 h1 M424,218 h1 M425,220 h1 M426,223 h1 M427,225 h1 M429,227 h1 M430,230 h1 M431,232 h1 M432,234 h1 M434,236 h1 M435,238 h1 M436,240 h1 M437,242 h1 M438,244 h1 M440,246 h1 M441,248 h1 M442,250 h1 M443,252 h1 M445,254 h1 M446,255 h1 M447,257 h1 M448,258 h1 M450,260 h1 M451,261 h1 M452,263 h1 M453,264 h1 M455,265 h1 M456,266 h1 " stroke="#800080" stroke-width="1" transform="translate(0,0.5)" shape-rendering="crispEdges"/><path d="M368,194 h1 M369,192 h1 M370,190 h1 M371,188 h1 M373,186 h1 M374,184 h1 M375,182 h1 M376,180 h1 M377,178 h1 M379,175 h1 M380,173 h1 M381,171 h1 M382,169 h1 M384,166 h1 M385,164 h1 M386,162 h1 M387,159 h1 M388,157 h1 M390,154 h1 M391,151 h1 M392,149 h1 M393,146 h1 M395,143 h1 M396,141 h1 M397,138 h1 M398,136 h1 M400,134 h1 M401,132 h1 M402,130 h1 M403,128 h1 M405,126 h1 M406,125 h1 M407,124 h1 M408,123 h1 M409,122 h1 M411,122 h1 M412,122 h1 M413,122 h1 M414,122 h1 M416,122 h1 M417,123 h1 M418,123 h1 M419,124 h1 M420,125 h1 M422,127 h1 M423,128 h1 M424,130 h1 M425,132 h1 M426,134 h1 M428,136 h1 M429,139 h1 M430,142 h1 M431,144 h1 M432,147 h1 M433,151 h1 M434,154 h1 M436,157 h1 M437,161 h1 M438,165 h1 M439,168 h1 M440,172 h1 M441,176 h1 M442,179 h1 M444,183 h1 M445,187 h1 M446,190 h1 M447,194 h1 M448,197 h1 M449,200 h1 M450,204 h1 M452,207 h1 M453,210 h1 M454,213 h1 M455,216 h1 M456,219 h1 M457,222 h1 M459,225 h1 M460,228 h1 M461,230 h1 M462,233 h1 M463,235 h1 M464,237 h1 M466,240 h1 M467,242 h1 M468,244 h1 M469,246 h1 M470,248 h1 M471,250 h1 M473,251 h1 M474,253 h1 M475,254 h1 M476,256 h1 M477,257 h1 M479,258 h1 M480,259 h1 " stroke="#000080" stroke-width="1" transform="translate(0,0.5)" shape-rendering="crispEdges"/>
<path d="M606,9 h2 l6,7 h-2z M612,9 h2 l-6,7 h-2z" fill="#000" shape-rendering="crispEdges"/>
<text transform="matrix(0.8750,-0.4850,-0.9900,-0.0500,254.92,443.18)" font-size="12" fill="#000" stroke="#000" stroke-width="0.6" text-anchor="middle" >0</text><text transform="matrix(0.8750,-0.4850,-0.9900,-0.0500,313.52,410.68)" font-size="12" fill="#000" stroke="#000" stroke-width="0.6" text-anchor="middle" >2</text><text transform="matrix(0.8750,-0.4850,-0.9900,-0.0500,368.42,378.18)" font-size="12" fill="#000" stroke="#000" stroke-width="0.6" text-anchor="middle" >4</text><text transform="matrix(0.8750,-0.4850,-0.9900,-0.0500,419.12,347.68)" font-size="12" fill="#000" stroke="#000" stroke-width="0.6" text-anchor="middle" >6</text><text transform="matrix(0.8750,-0.4850,-0.9900,-0.0500,469.32,319.38)" font-size="12" fill="#000" stroke="#000" stroke-width="0.6" text-anchor="middle" >8</text><text transform="matrix(0.8750,-0.4850,-0.9900,-0.0500,516.82,290.88)" font-size="12" fill="#000" stroke="#000" stroke-width="0.6" text-anchor="middle" >10</text><text transform="matrix(0.8750,-0.4850,-0.9900,-0.0500,300.37,436.27)" font-size="13" fill="#000" stroke="#000" stroke-width="0.35" text-anchor="middle" textLength="60" lengthAdjust="spacingAndGlyphs">Y (Time</text><text transform="matrix(0.8750,-0.4850,-0.9900,-0.0500,352.57,407.77)" font-size="13" fill="#000" stroke="#000" stroke-width="0.35" text-anchor="middle" >)</text><path d="M337.5,417 L352,408.5 M346,409.2 L352,408.5 L349.5,413.5" stroke="#000" stroke-width="1.1" fill="none"/><text transform="matrix(0.9090,0.4160,-0.8750,0.4850,140.22,418.10)" font-size="12" fill="#000" stroke="#000" stroke-width="0.35" text-anchor="middle" >X</text>
</svg>
</body></html>
